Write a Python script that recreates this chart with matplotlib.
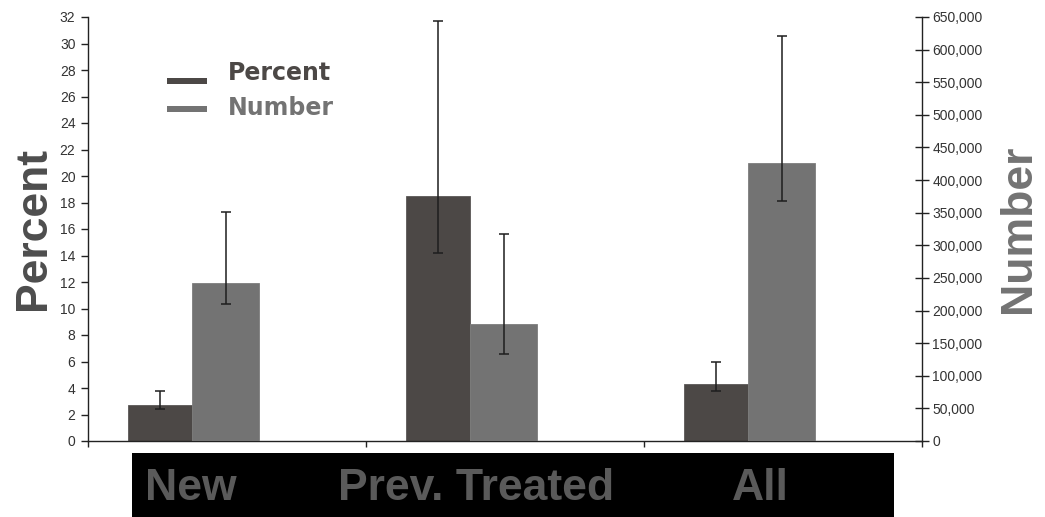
import matplotlib
matplotlib.use("Agg")
import matplotlib.pyplot as plt
from matplotlib.patches import Rectangle
from matplotlib.ticker import FuncFormatter, MultipleLocator
import matplotlib.transforms as mtransforms

plt.rcParams['font.family'] = ['Liberation Sans', 'DejaVu Sans']

categories = ["New", "Prev. Treated", "All"]
percent = [2.7, 18.5, 4.3]
percent_low = [2.4, 14.2, 3.8]
percent_high = [3.8, 31.7, 6.0]
number = [242000, 180000, 426000]
number_low = [210000, 134000, 368000]
number_high = [351000, 318000, 621000]
series_names = ["Percent", "Number"]
label_offsets = [0.371, 0.395, 0.418]

c_pct = "#4c4846"
c_num = "#737373"
c_err = "#1e1e1e"
c_tick = "#333333"

W, H = 1045, 517
fig = plt.figure(figsize=(W / 100, H / 100), dpi=100)
ax = fig.add_axes([88 / W, 76 / H, 834 / W, 424 / H])
ax2 = ax.twinx()

n = len(categories)
x_pct = [i + 0.26 for i in range(n)]
x_num = [i + 0.495 for i in range(n)]

ax.bar(x_pct, percent, width=0.23, color=c_pct, edgecolor="#5a5756", linewidth=0.6, zorder=2)
ax2.bar(x_num, number, width=0.24, color=c_num, edgecolor="#7d7d7d", linewidth=0.6, zorder=2)

pct_err = [[p - lo for p, lo in zip(percent, percent_low)],
           [hi - p for p, hi in zip(percent, percent_high)]]
num_err = [[v - lo for v, lo in zip(number, number_low)],
           [hi - v for v, hi in zip(number, number_high)]]
ax.errorbar(x_pct, percent, yerr=pct_err, fmt="none", ecolor=c_err,
            elinewidth=1.1, capsize=3.6, capthick=1.1, zorder=3)
ax2.errorbar(x_num, number, yerr=num_err, fmt="none", ecolor=c_err,
             elinewidth=1.1, capsize=3.6, capthick=1.1, zorder=3)

ax.set_xlim(0, n)
ax.set_ylim(0, 32)
ax2.set_ylim(0, 650000)
ax.yaxis.set_major_locator(MultipleLocator(2))
ax2.yaxis.set_major_locator(MultipleLocator(50000))
ax2.yaxis.set_major_formatter(FuncFormatter(lambda v, p: f"{int(v):,}"))

for a in (ax, ax2):
    a.spines['top'].set_visible(False)
    for s in a.spines.values():
        s.set_color("#222222")
        s.set_linewidth(1.0)
ax.spines['right'].set_visible(False)
ax2.spines['left'].set_visible(False)
ax2.spines['bottom'].set_visible(False)

ax.set_xticks(range(n + 1))
ax.set_xticklabels([])
ax.tick_params(axis='x', direction='out', length=4, width=1, color="#222222")
ax.tick_params(axis='y', direction='out', length=5, width=1, color="#222222",
               labelsize=10, labelcolor=c_tick, pad=4)
ax2.tick_params(axis='y', direction='inout', length=10, width=1, color="#222222",
                labelsize=10, labelcolor=c_tick, pad=2.5)

ax.set_ylabel("Percent", fontsize=32, fontweight='bold', color="#4d4d4d", labelpad=4)
ax2.set_ylabel("Number", fontsize=32, fontweight='bold', color="#737373",
               rotation=90, labelpad=11)

# legend: short bars with bold coloured names
for (name, col, y_bar, y_txt) in zip(series_names, [c_pct, c_num], [78, 106], [80, 115]):
    fig.add_artist(Rectangle((167 / W, 1 - (y_bar + 6) / H), 40 / W, 6 / H,
                             transform=fig.transFigure, facecolor=col, edgecolor="none"))
    fig.text(228 / W, 1 - y_txt / H, name, ha='left', va='baseline',
             fontsize=17, fontweight='bold', color=col, family='DejaVu Sans')

# category band beneath the axis
fig.add_artist(Rectangle((132 / W, 0), (894 - 132) / W, (H - 453) / H,
                         transform=fig.transFigure, facecolor="black",
                         edgecolor="none", zorder=0))
trans = mtransforms.blended_transform_factory(ax.transData, fig.transFigure)
for i, (cat, off) in enumerate(zip(categories, label_offsets)):
    fig.text(i + off, 28 / H, cat, transform=trans, ha='center', va='center',
             fontsize=32, fontweight='bold', color="#5a5a5a")

fig.savefig("out.png", dpi=100)
